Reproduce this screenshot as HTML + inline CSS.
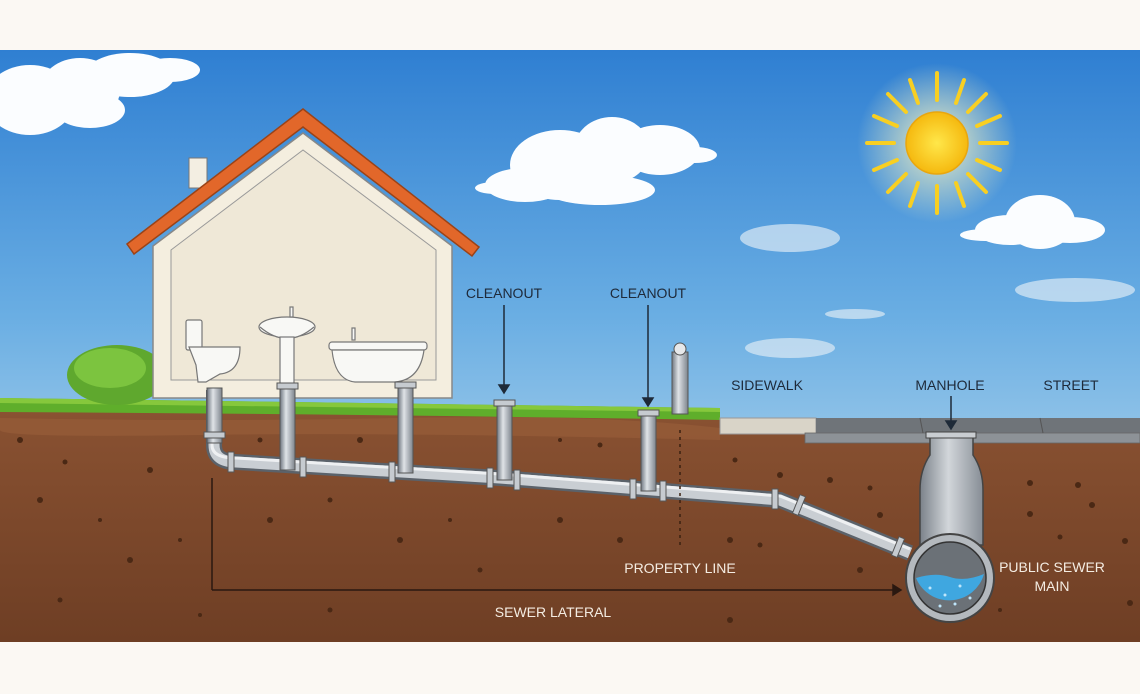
<!DOCTYPE html>
<html><head><meta charset="utf-8"><style>
html,body{margin:0;padding:0;background:#fbf8f3;}
svg{display:block}
text{font-family:"Liberation Sans",sans-serif;}
</style></head><body>
<svg width="1140" height="694" viewBox="0 0 1140 694" xmlns="http://www.w3.org/2000/svg">
<defs>
<linearGradient id="sky" x1="0" y1="0" x2="0" y2="1">
<stop offset="0" stop-color="#2f7fd2"/><stop offset="0.45" stop-color="#6aaee3"/><stop offset="1" stop-color="#d3e8f1"/></linearGradient>
<linearGradient id="soil" x1="0" y1="0" x2="0" y2="1">
<stop offset="0" stop-color="#8a5232"/><stop offset="1" stop-color="#6e3e24"/></linearGradient>
<linearGradient id="pipeV" x1="0" y1="0" x2="1" y2="0">
<stop offset="0" stop-color="#6f7680"/><stop offset="0.4" stop-color="#dfe3e7"/><stop offset="1" stop-color="#7d848c"/></linearGradient>
<linearGradient id="shaft" x1="0" y1="0" x2="1" y2="0">
<stop offset="0" stop-color="#7b828a"/><stop offset="0.45" stop-color="#d2d6da"/><stop offset="1" stop-color="#868d95"/></linearGradient>
<radialGradient id="sun"><stop offset="0" stop-color="#ffe74a"/><stop offset="1" stop-color="#f5b90f"/></radialGradient>
<radialGradient id="glow"><stop offset="0" stop-color="#fff8c0" stop-opacity="0.9"/><stop offset="1" stop-color="#fff8c0" stop-opacity="0"/></radialGradient>
</defs>
<rect x="0" y="50" width="1140" height="592" fill="url(#sky)"/>
<!-- sun -->
<circle cx="937" cy="143" r="80" fill="url(#glow)"/>
<g stroke="#f8cf22" stroke-width="4" stroke-linecap="round">
<line x1="937" y1="73" x2="937" y2="100"/><line x1="937" y1="186" x2="937" y2="213"/>
<line x1="867" y1="143" x2="894" y2="143"/><line x1="980" y1="143" x2="1007" y2="143"/>
<line x1="888" y1="94" x2="906" y2="112"/><line x1="968" y1="174" x2="986" y2="192"/>
<line x1="986" y1="94" x2="968" y2="112"/><line x1="906" y1="174" x2="888" y2="192"/>
<line x1="910" y1="80" x2="918" y2="103"/><line x1="964" y1="80" x2="956" y2="103"/>
<line x1="910" y1="206" x2="918" y2="183"/><line x1="964" y1="206" x2="956" y2="183"/>
<line x1="874" y1="116" x2="897" y2="126"/><line x1="1000" y1="116" x2="977" y2="126"/>
<line x1="874" y1="170" x2="897" y2="160"/><line x1="1000" y1="170" x2="977" y2="160"/>
</g>
<circle cx="937" cy="143" r="31" fill="url(#sun)" stroke="#e9a60e" stroke-width="1.5"/>
<!-- clouds -->
<g fill="#fbfdff">
<ellipse cx="30" cy="100" rx="45" ry="35"/><ellipse cx="80" cy="90" rx="40" ry="32"/><ellipse cx="130" cy="75" rx="45" ry="22"/><ellipse cx="170" cy="70" rx="30" ry="12"/><ellipse cx="90" cy="110" rx="35" ry="18"/>
<ellipse cx="560" cy="165" rx="50" ry="35"/><ellipse cx="612" cy="150" rx="38" ry="33"/><ellipse cx="660" cy="150" rx="40" ry="25"/><ellipse cx="525" cy="185" rx="40" ry="17"/><ellipse cx="600" cy="190" rx="55" ry="15"/><ellipse cx="695" cy="155" rx="22" ry="8"/><ellipse cx="495" cy="188" rx="20" ry="6"/>
<ellipse cx="1040" cy="222" rx="35" ry="27"/><ellipse cx="1010" cy="230" rx="35" ry="15"/><ellipse cx="1070" cy="230" rx="35" ry="13"/><ellipse cx="985" cy="235" rx="25" ry="6"/>
</g>
<g fill="#dceaf5" opacity="0.7">
<ellipse cx="790" cy="238" rx="50" ry="14"/><ellipse cx="1075" cy="290" rx="60" ry="12"/><ellipse cx="790" cy="348" rx="45" ry="10"/><ellipse cx="855" cy="314" rx="30" ry="5"/>
</g>
<!-- soil -->
<path d="M0 408 L720 412 L720 433 L805 433 L805 443 L1140 443 L1140 642 L0 642 Z" fill="url(#soil)"/>
<path d="M0 418 Q200 422 400 418 T720 428 L720 440 Q400 432 200 435 T0 430 Z" fill="#9a5f3a" opacity="0.6"/>
<g fill="#4a2814">
<circle cx="20" cy="440" r="3"/><circle cx="65" cy="462" r="2.5"/><circle cx="40" cy="500" r="3"/><circle cx="100" cy="520" r="2"/><circle cx="150" cy="470" r="3"/><circle cx="130" cy="560" r="3"/><circle cx="60" cy="600" r="2.5"/><circle cx="180" cy="540" r="2"/><circle cx="260" cy="440" r="2.5"/><circle cx="270" cy="520" r="3"/><circle cx="330" cy="500" r="2.5"/><circle cx="360" cy="440" r="3"/><circle cx="400" cy="540" r="3"/><circle cx="450" cy="520" r="2"/><circle cx="480" cy="570" r="2.5"/><circle cx="560" cy="520" r="3"/><circle cx="600" cy="445" r="2.5"/><circle cx="620" cy="540" r="3"/><circle cx="560" cy="440" r="2"/><circle cx="735" cy="460" r="2.5"/><circle cx="780" cy="475" r="3"/><circle cx="830" cy="480" r="3"/><circle cx="870" cy="488" r="2.5"/><circle cx="880" cy="515" r="3"/><circle cx="730" cy="540" r="3"/><circle cx="760" cy="545" r="2.5"/><circle cx="860" cy="570" r="3"/><circle cx="1030" cy="483" r="3"/><circle cx="1078" cy="485" r="3"/><circle cx="1092" cy="505" r="3"/><circle cx="1030" cy="514" r="3"/><circle cx="1060" cy="537" r="2.5"/><circle cx="1125" cy="541" r="3"/><circle cx="1130" cy="603" r="3"/><circle cx="330" cy="610" r="2.5"/><circle cx="200" cy="615" r="2"/><circle cx="730" cy="620" r="3"/><circle cx="1000" cy="610" r="2"/>
</g>
<!-- grass -->
<path d="M0 398 L720 408 L720 420 Q360 414 0 412 Z" fill="#5fae2b"/>
<path d="M0 398 L720 408 L720 412 L0 403 Z" fill="#86c83c"/>
<!-- bush -->
<ellipse cx="117" cy="375" rx="50" ry="30" fill="#5fa82e"/>
<ellipse cx="110" cy="368" rx="36" ry="20" fill="#7cc43f"/>
<!-- house -->
<rect x="189" y="158" width="18" height="30" fill="#f3eee2" stroke="#777" stroke-width="1"/>
<path d="M153 246 L303 133 L452 246 L452 398 L153 398 Z" fill="#f4eedf" stroke="#888" stroke-width="1.5"/>
<path d="M171 250 L303 150 L436 250 L436 380 L171 380 Z" fill="#efe8d7" stroke="#999" stroke-width="1"/>
<path d="M127 244 L303 109 L479 247 L472 256 L303 127 L134 254 Z" fill="#e2672a" stroke="#9b4317" stroke-width="1.5"/>
<!-- fixtures -->
<g fill="#f8f8f5" stroke="#777" stroke-width="1.2">
<rect x="186" y="320" width="16" height="30" rx="2"/>
<path d="M189 347 L240 347 Q240 372 220 374 L206 382 L198 382 L196 365 Z"/>
<ellipse cx="287" cy="327" rx="28" ry="10"/>
<path d="M260 327 Q287 350 314 327" />
<rect x="280" y="337" width="14" height="48"/>
<rect x="290" y="307" width="3" height="10"/>
<rect x="329" y="342" width="98" height="8" rx="3"/>
<path d="M332 350 L424 350 Q420 380 395 382 L355 382 Q335 380 332 350 Z"/>
<rect x="352" y="328" width="3" height="12"/>
</g>
<!-- pipes -->
<g fill="none" stroke-linecap="butt">
<path d="M214 390 L214 445 Q214 462 236 462 L500 478 L780 500 L910 553" stroke="#5b626a" stroke-width="16"/>
<path d="M214 390 L214 445 Q214 462 236 462 L500 478 L780 500 L910 553" stroke="#c9ced3" stroke-width="11"/>
<path d="M212 390 L212 445 Q212 458 236 458 L500 474 L780 496 L910 549" stroke="#eef0f2" stroke-width="3"/>
</g>
<g>
<rect x="280" y="385" width="15" height="85" fill="url(#pipeV)" stroke="#555" stroke-width="1"/>
<rect x="398" y="385" width="15" height="88" fill="url(#pipeV)" stroke="#555" stroke-width="1"/>
<rect x="497" y="402" width="15" height="78" fill="url(#pipeV)" stroke="#555" stroke-width="1"/>
<rect x="641" y="413" width="15" height="78" fill="url(#pipeV)" stroke="#555" stroke-width="1"/>
<rect x="207" y="388" width="15" height="55" fill="url(#pipeV)" stroke="#555" stroke-width="1"/>
<rect x="277" y="383" width="21" height="6" fill="#c6cbd0" stroke="#555"/>
<rect x="395" y="382" width="21" height="6" fill="#c6cbd0" stroke="#555"/>
<rect x="494" y="400" width="21" height="6" fill="#c6cbd0" stroke="#555"/>
<rect x="638" y="410" width="21" height="6" fill="#c6cbd0" stroke="#555"/>
<rect x="204" y="432" width="21" height="6" fill="#c6cbd0" stroke="#555"/>
<g fill="#c6cbd0" stroke="#555">
<rect x="228" y="452" width="6" height="20"/><rect x="300" y="457" width="6" height="20"/><rect x="389" y="462" width="6" height="20"/><rect x="487" y="468" width="6" height="20"/><rect x="514" y="470" width="6" height="20"/><rect x="630" y="479" width="6" height="20"/><rect x="660" y="481" width="6" height="20"/><rect x="772" y="489" width="6" height="20"/>
<rect x="796" y="495" width="6" height="20" transform="rotate(22 799 505)"/><rect x="895" y="537" width="6" height="20" transform="rotate(22 898 547)"/>
</g>
</g>
<!-- post -->
<rect x="672" y="352" width="16" height="62" fill="url(#pipeV)" stroke="#555"/>
<circle cx="680" cy="349" r="6" fill="#e6e8ea" stroke="#555"/>
<line x1="680" y1="430" x2="680" y2="545" stroke="#3a2010" stroke-width="1.5" stroke-dasharray="3 4"/>
<!-- sidewalk & street -->
<rect x="720" y="418" width="96" height="16" fill="#d9d4c8" stroke="#999"/>
<rect x="816" y="418" width="324" height="15" fill="#6f7479"/>
<rect x="805" y="433" width="335" height="10" fill="#8d9297" stroke="#666" stroke-width="0.8"/>
<line x1="920" y1="418" x2="923" y2="433" stroke="#555"/><line x1="1040" y1="418" x2="1043" y2="433" stroke="#555"/>
<!-- manhole -->
<path d="M930 437 L973 437 L973 455 Q983 470 983 490 L983 545 L920 545 L920 490 Q920 470 930 455 Z" fill="url(#shaft)" stroke="#444" stroke-width="1.5"/>
<rect x="926" y="432" width="50" height="6" fill="#c9cdd1" stroke="#444"/>
<circle cx="950" cy="578" r="44" fill="#b4b9be" stroke="#444" stroke-width="2"/>
<circle cx="950" cy="578" r="36" fill="#6b7177" stroke="#333" stroke-width="1.5"/>
<path d="M916 578 Q935 572 950 577 T984 574 A36 36 0 0 1 916 578 Z" fill="#3fa7e0"/>
<g fill="#bfe6fb"><circle cx="930" cy="588" r="1.5"/><circle cx="945" cy="595" r="1.5"/><circle cx="960" cy="586" r="1.5"/><circle cx="970" cy="598" r="1.5"/><circle cx="940" cy="606" r="1.5"/><circle cx="955" cy="604" r="1.5"/></g>
<!-- arrows & labels -->
<g stroke="#1e2a38" stroke-width="1.5" fill="#1e2a38">
<line x1="504" y1="305" x2="504" y2="388"/><path d="M499 385 L504 393 L509 385 Z"/>
<line x1="648" y1="305" x2="648" y2="400"/><path d="M643 398 L648 406 L653 398 Z"/>
<line x1="951" y1="396" x2="951" y2="424"/><path d="M946 421 L951 429 L956 421 Z"/>
</g>
<g stroke="#2a1810" stroke-width="1.5" fill="#2a1810">
<line x1="212" y1="478" x2="212" y2="590"/><line x1="212" y1="590" x2="895" y2="590"/><path d="M893 585 L901 590 L893 595 Z"/>
</g>
<g font-size="14" fill="#1e2a3a" text-anchor="middle">
<text x="504" y="298">CLEANOUT</text><text x="648" y="298">CLEANOUT</text>
<text x="767" y="390">SIDEWALK</text><text x="950" y="390">MANHOLE</text><text x="1071" y="390">STREET</text>
</g>
<g font-size="14" fill="#f4ece2" text-anchor="middle">
<text x="680" y="573">PROPERTY LINE</text><text x="553" y="617">SEWER LATERAL</text>
<text x="1052" y="572">PUBLIC SEWER</text><text x="1052" y="591">MAIN</text>
</g>
<rect x="0" y="0" width="1140" height="50" fill="#fbf8f3"/>
<rect x="0" y="642" width="1140" height="52" fill="#fbf8f3"/>
</svg>
</body></html>
